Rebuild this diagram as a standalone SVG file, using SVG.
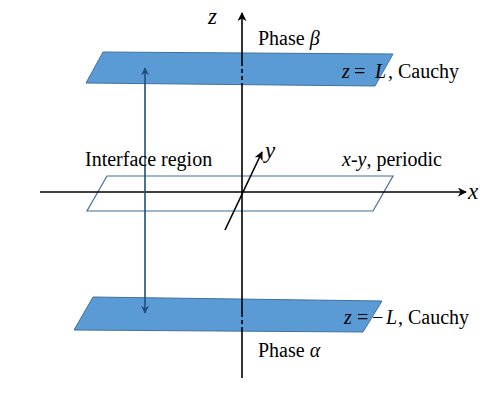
<svg xmlns="http://www.w3.org/2000/svg" width="498" height="407" viewBox="0 0 498 407">
<style>
.t{font-family:"Liberation Serif","Times New Roman",serif;font-size:20px;fill:#000}
.i{font-style:italic}
.big{font-size:23px}
.ax{stroke:#000;stroke-width:1.6;fill:none}
.plane{fill:#5B9BD5;stroke:#41719C;stroke-width:1}
.open{fill:none;stroke:#41719C;stroke-width:1.2}
.blue{stroke:#1F4E79;stroke-width:1.6;fill:none}
</style>
<defs>
<marker id="ah" viewBox="0 0 10 10" refX="9" refY="5" markerWidth="9" markerHeight="9" markerUnits="userSpaceOnUse" orient="auto">
<path d="M0,0 L10,5 L0,10 L3,5 z" fill="#000"/>
</marker>
<marker id="ab" viewBox="0 0 10 10" refX="9" refY="5" markerWidth="8" markerHeight="8" markerUnits="userSpaceOnUse" orient="auto-start-reverse">
<path d="M0,0 L10,5 L0,10 L3,5 z" fill="#1F4E79"/>
</marker>
</defs>
<g id="plane-top"><polygon class="plane" points="103,52 393,54 375,86 86,83"/></g>
<g id="plane-mid"><polygon class="open" points="107,176 393,176 373,211 87,211"/></g>
<g id="plane-bottom"><polygon class="plane" points="93,297 382,301 363,332 74,330"/></g>
<g id="connectors">
<line class="ax" x1="242" y1="62" x2="242" y2="13" marker-end="url(#ah)"/>
<line class="ax" x1="242" y1="62" x2="242" y2="86" stroke-dasharray="4,3"/>
<line class="ax" x1="242" y1="86" x2="242" y2="313"/>
<line class="ax" x1="242" y1="313" x2="242" y2="331" stroke-dasharray="4,3"/>
<line class="ax" x1="242" y1="331" x2="242" y2="378"/>
<line class="ax" x1="40" y1="192" x2="466" y2="192" marker-end="url(#ah)"/>
<line class="ax" x1="225" y1="230" x2="262" y2="152" marker-end="url(#ah)"/>
<line class="blue" x1="145" y1="68" x2="145" y2="313" marker-start="url(#ab)" marker-end="url(#ab)"/>
</g>
<g id="labels">
<text class="t i big" x="208" y="24">z</text>
<text class="t" x="258" y="45">Phase <tspan class="i">β</tspan></text>
<text class="t" x="342" y="78"><tspan class="i">z</tspan><tspan x="354">=</tspan><tspan class="i" x="375">L</tspan><tspan x="388">, Cauchy</tspan></text>
<text class="t" x="85" y="166">Interface region</text>
<text class="t" x="342" y="166"><tspan class="i">x</tspan>-<tspan class="i">y</tspan>, periodic</text>
<text class="t i big" x="265" y="158">y</text>
<text class="t i big" x="468" y="199">x</text>
<text class="t" x="344" y="324"><tspan class="i">z</tspan><tspan x="357">=</tspan><tspan x="372">−</tspan><tspan class="i" x="386">L</tspan><tspan x="398">, Cauchy</tspan></text>
<text class="t" x="258" y="357">Phase <tspan class="i">α</tspan></text>
</g>
</svg>
